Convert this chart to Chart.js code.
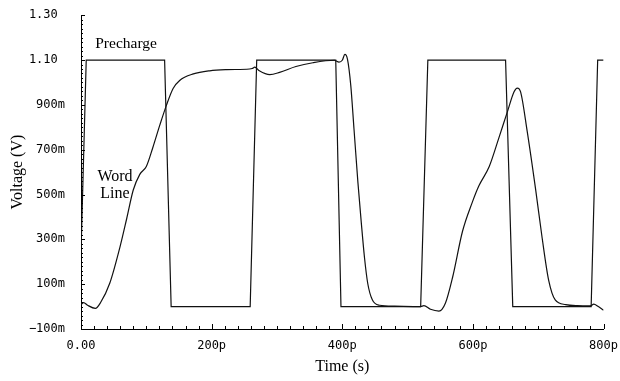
<!DOCTYPE html>
<html>
<head>
<meta charset="utf-8">
<script src="https://cdn.jsdelivr.net/npm/chart.js@4"></script>
<style>
  html, body { margin: 0; padding: 0; background: #fff; }
  canvas { display: block; }
</style>
</head>
<body>
<canvas id="sim-chart" width="620" height="381"></canvas>
<script>
// precharge signal (time in ps, volts)
const preTime  = [0, 8, 128, 138, 259, 269, 390, 398, 520, 531, 650, 661, 781, 791, 800];
const preVolt  = [0.24, 1.1, 1.1, 0, 0, 1.1, 1.1, 0, 0, 1.1, 1.1, 0, 0, 1.1, 1.1];

// word line signal
const wlTime = [0, 4, 10, 22, 30, 44, 60, 70, 80, 90, 100, 110, 121, 131, 141, 151, 172, 197, 223, 258,
  262, 266, 273, 289, 304, 329, 355, 388, 395, 400, 404, 408, 413, 418, 424, 429, 434, 439, 446, 457,
  480, 520, 525, 535, 548, 558, 569, 584, 599, 609, 625, 640, 653, 663, 668, 673, 683, 696, 706, 716,
  726, 742, 760, 780, 785, 792, 800];
const wlVolt = [0.009, 0.018, 0.006, -0.008, 0.018, 0.104, 0.27, 0.393, 0.52, 0.59, 0.625, 0.71, 0.813, 0.9, 0.973, 1.009, 1.038, 1.052, 1.057, 1.06,
  1.062, 1.068, 1.052, 1.035, 1.045, 1.071, 1.088, 1.099, 1.091, 1.099, 1.125, 1.103, 0.987, 0.79, 0.552, 0.378, 0.219, 0.103, 0.03, 0.006,
  0.002, 0.0, 0.004, -0.012, -0.02, 0.016, 0.132, 0.335, 0.465, 0.538, 0.625, 0.755, 0.871, 0.958, 0.975, 0.958, 0.784, 0.523, 0.306, 0.117,
  0.03, 0.009, 0.004, 0.003, 0.011, 0.0, -0.016];

// axis ticks
const xTicks  = [0, 200, 400, 600, 800];
const xLabels = ["0.00", "200p", "400p", "600p", "800p"];
const yTicks  = [-0.1, 0.1, 0.3, 0.5, 0.7, 0.9, 1.1, 1.3];
const yLabels = ["\u2212100m", "100m", "300m", "500m", "700m", "900m", "1.10 ", "1.30 "];
const xMinorStep = 20;
const yMinorStep = 0.02;

// text labels on the curves
const notes = [
  { text: "Precharge", t: 69, v: 1.152, size: 15.5 },
  { text: "Word", t: 52, v: 0.561, size: 16 },
  { text: "Line", t: 52, v: 0.483, size: 16 }
];

const toPoints = (ts, vs) => ts.map((t, i) => ({ x: t, y: vs[i] }));
const tickFont = { family: "DejaVu Sans Mono", size: 12 };
const titleFont = { family: "Liberation Serif", size: 16 };


// inward tick marks and curve labels
const extras = {
  id: "extras",
  afterDraw(chart) {
    const { ctx, scales: { x, y } } = chart;
    ctx.save();
    ctx.strokeStyle = "#000";
    ctx.lineWidth = 1;
    ctx.beginPath();
    for (let t = 0; t <= 800.001; t += xMinorStep) {
      const px = Math.round(x.getPixelForValue(t)) + 0.5;
      const len = xTicks.some(v => Math.abs(v - t) < 1e-6) ? 5 : 3;
      ctx.moveTo(px, y.bottom);
      ctx.lineTo(px, y.bottom - len);
    }
    for (let i = 0; i <= 70; i++) {
      const v = -0.1 + i * yMinorStep;
      const py = Math.round(y.getPixelForValue(v)) + 0.5;
      const len = yTicks.some(k => Math.abs(k - v) < 1e-6) ? 4 : 2;
      ctx.moveTo(x.left, py);
      ctx.lineTo(x.left + len, py);
    }
    ctx.stroke();

    ctx.fillStyle = "#000";
    ctx.textAlign = "center";
    ctx.textBaseline = "alphabetic";
    notes.forEach(n => {
      ctx.font = n.size + "px 'Liberation Serif'";
      ctx.fillText(n.text, x.getPixelForValue(n.t), y.getPixelForValue(n.v));
    });
    ctx.restore();
  }
};


new Chart(document.getElementById("sim-chart"), {
  type: "line",
  data: {
    datasets: [
      {
        data: toPoints(preTime, preVolt),
        borderColor: "#111",
        borderWidth: 1.2,
        pointRadius: 0,
        tension: 0
      },
      {
        data: toPoints(wlTime, wlVolt),
        borderColor: "#111",
        borderWidth: 1.2,
        pointRadius: 0,
        cubicInterpolationMode: "monotone"
      }
    ]
  },
  options: {
    responsive: false,
    animation: false,
    devicePixelRatio: 1,
    layout: { padding: { left: 0, top: 8, right: 15, bottom: 0 } },
    plugins: { legend: { display: false }, tooltip: { enabled: false } },
    scales: {
      x: {
        type: "linear",
        min: 0,
        max: 800,
        afterBuildTicks: s => { s.ticks = xTicks.map(v => ({ value: v })); },
        afterFit: s => { s.height = 52; },
        ticks: {
          callback: v => xLabels[xTicks.indexOf(v)],
          font: tickFont,
          color: "#000",
          padding: 2,
          maxRotation: 0,
          autoSkip: false
        },
        grid: { display: false },
        border: { display: true, color: "#000", width: 1 },
        title: { display: true, text: "Time (s)", font: titleFont, color: "#000", padding: { top: 4, bottom: 5 } }
      },
      y: {
        min: -0.1,
        max: 1.3,
        afterBuildTicks: s => { s.ticks = yTicks.map(v => ({ value: v })); },
        afterFit: s => { s.width = 81; },
        ticks: {
          callback: (v, i) => yLabels[i],
          font: tickFont,
          color: "#000",
          padding: 8,
          autoSkip: false
        },
        grid: { display: false },
        border: { display: true, color: "#000", width: 1 },
        title: { display: true, text: "Voltage (V)", font: titleFont, color: "#000", padding: { top: 8, bottom: 4 } }
      }
    }
  },
  plugins: [extras]
});
</script>
</body>
</html>
